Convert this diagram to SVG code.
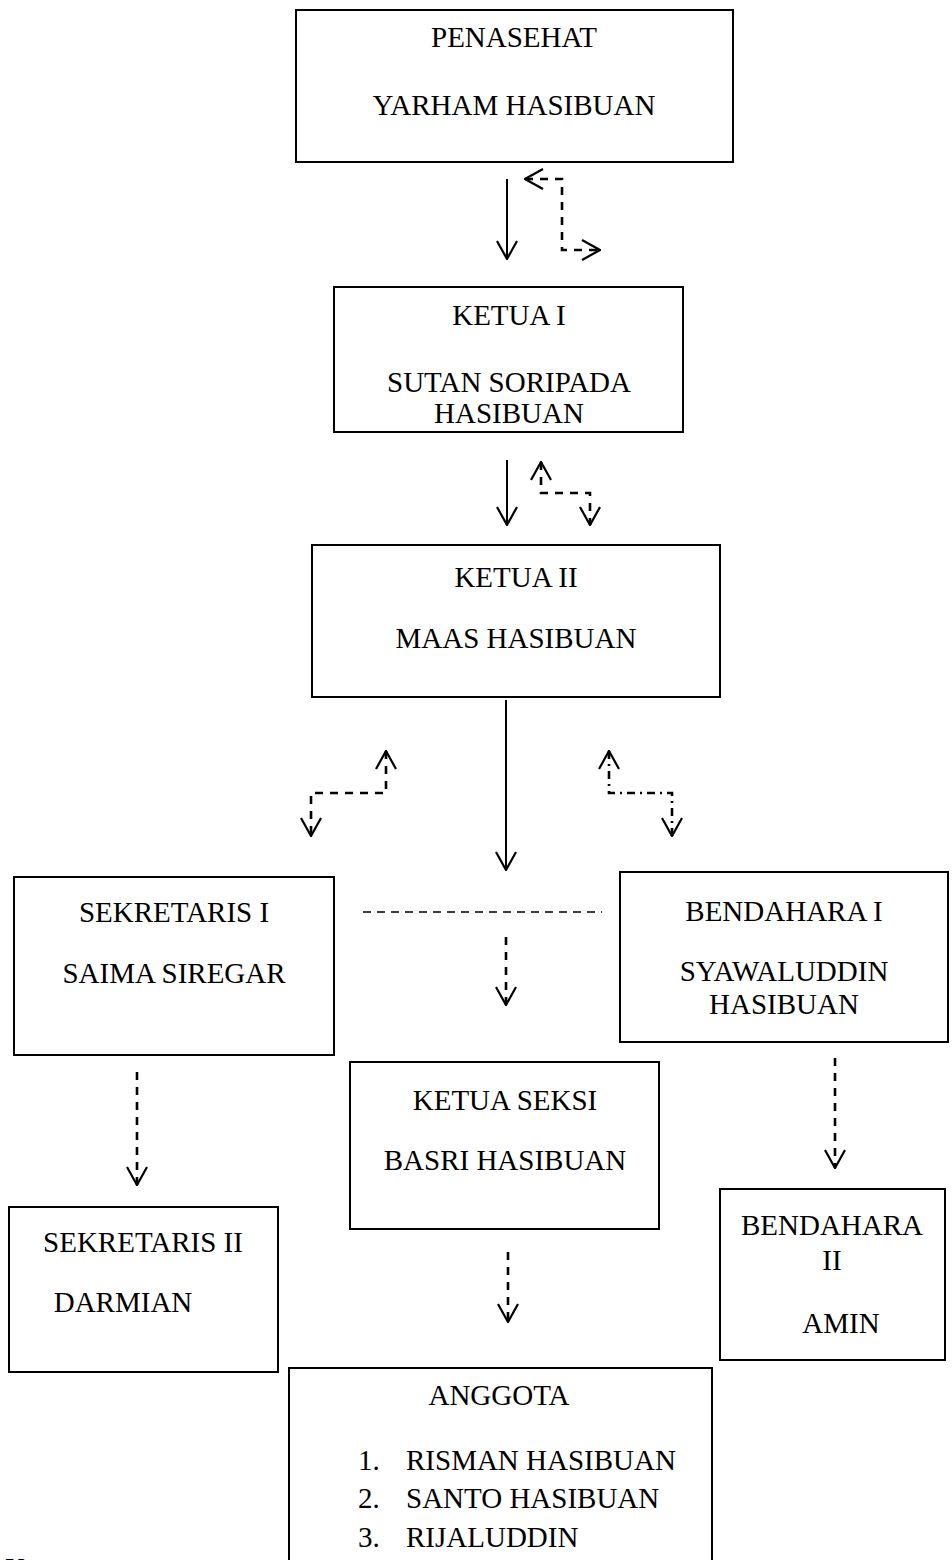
<svg xmlns="http://www.w3.org/2000/svg" width="952" height="1560" viewBox="0 0 952 1560">
<style>
.box{fill:#fff;stroke:#000;stroke-width:2}
.t{font-family:"Liberation Serif","Times New Roman",serif;font-size:29px;fill:#000;text-anchor:middle}
.tl{font-family:"Liberation Serif","Times New Roman",serif;font-size:29px;fill:#000}
.solid{fill:none;stroke:#000;stroke-width:2}
.dash{fill:none;stroke:#000;stroke-width:2.6;stroke-dasharray:8 7}
.dashthin{fill:none;stroke:#000;stroke-width:1.6;stroke-dasharray:8 6}
.dashdot{fill:none;stroke:#000;stroke-width:2.6;stroke-dasharray:8 5 2 5}
</style>
<defs>
<marker id="arr" viewBox="0 0 20 22" refX="19" refY="11" markerWidth="20" markerHeight="22" markerUnits="userSpaceOnUse" orient="auto-start-reverse">
<path d="M1,1 L19,11 L1,21" fill="none" stroke="#000" stroke-width="2.2" stroke-dasharray="none"/>
</marker>
</defs>
<rect width="952" height="1560" fill="#fff"/>
<g id="connectors">
<line class="solid" x1="507" y1="179" x2="507" y2="259" marker-end="url(#arr)"/>
<polyline class="dash" points="525,179 562,179 562,250 600,250" marker-start="url(#arr)" marker-end="url(#arr)"/>
<line class="solid" x1="507" y1="460" x2="507" y2="525" marker-end="url(#arr)"/>
<polyline class="dash" points="541,462 541,493 590,493 590,525" marker-start="url(#arr)" marker-end="url(#arr)"/>
<polyline class="dash" points="386,751 386,793 311,793 311,836" marker-start="url(#arr)" marker-end="url(#arr)"/>
<polyline class="dashdot" points="609,751 609,793 672,793 672,836" marker-start="url(#arr)" marker-end="url(#arr)"/>
<line class="solid" x1="506" y1="700" x2="506" y2="870" marker-end="url(#arr)"/>
<line class="dashthin" x1="363" y1="912" x2="602" y2="912"/>
<line class="dash" x1="506" y1="937" x2="506" y2="1005" marker-end="url(#arr)"/>
<line class="dash" x1="137" y1="1072" x2="137" y2="1185" marker-end="url(#arr)"/>
<line class="dash" x1="835" y1="1058" x2="835" y2="1168" marker-end="url(#arr)"/>
<line class="dash" x1="508" y1="1252" x2="508" y2="1322" marker-end="url(#arr)"/>
</g>
<g id="penasehat">
<rect class="box" x="296" y="10" width="437" height="152"/>
<text class="t" x="514" y="47">PENASEHAT</text>
<text class="t" x="514" y="115">YARHAM HASIBUAN</text>
</g>
<g id="ketua1">
<rect class="box" x="334" y="287" width="349" height="145"/>
<text class="t" x="509" y="325">KETUA I</text>
<text class="t" x="509" y="392">SUTAN SORIPADA</text>
<text class="t" x="509" y="423">HASIBUAN</text>
</g>
<g id="ketua2">
<rect class="box" x="312" y="545" width="408" height="152"/>
<text class="t" x="516" y="587">KETUA II</text>
<text class="t" x="516" y="648">MAAS HASIBUAN</text>
</g>
<g id="sekretaris1">
<rect class="box" x="14" y="877" width="320" height="178"/>
<text class="t" x="174" y="922">SEKRETARIS I</text>
<text class="t" x="174" y="983">SAIMA SIREGAR</text>
</g>
<g id="bendahara1">
<rect class="box" x="620" y="872" width="328" height="170"/>
<text class="t" x="784" y="921">BENDAHARA I</text>
<text class="t" x="784" y="981">SYAWALUDDIN</text>
<text class="t" x="784" y="1014">HASIBUAN</text>
</g>
<g id="ketuaseksi">
<rect class="box" x="350" y="1062" width="309" height="167"/>
<text class="t" x="505" y="1110">KETUA SEKSI</text>
<text class="t" x="505" y="1170">BASRI HASIBUAN</text>
</g>
<g id="sekretaris2">
<rect class="box" x="9" y="1207" width="269" height="165"/>
<text class="t" x="143" y="1252">SEKRETARIS II</text>
<text class="t" x="123" y="1312">DARMIAN</text>
</g>
<g id="bendahara2">
<rect class="box" x="720" y="1189" width="225" height="171"/>
<text class="t" x="832" y="1235">BENDAHARA</text>
<text class="t" x="832" y="1270">II</text>
<text class="t" x="841" y="1333">AMIN</text>
</g>
<g id="anggota">
<rect class="box" x="289" y="1368" width="423" height="200"/>
<text class="t" x="499" y="1405">ANGGOTA</text>
<text class="tl" x="358" y="1470">1.</text>
<text class="tl" x="406" y="1470">RISMAN HASIBUAN</text>
<text class="tl" x="358" y="1508">2.</text>
<text class="tl" x="406" y="1508">SANTO HASIBUAN</text>
<text class="tl" x="358" y="1547">3.</text>
<text class="tl" x="406" y="1547">RIJALUDDIN</text>
</g>
<text class="tl" x="5" y="1578">K</text>
</svg>
